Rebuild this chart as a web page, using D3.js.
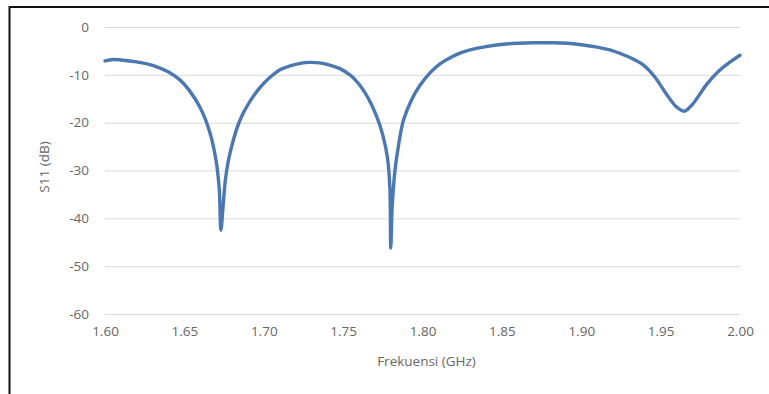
<!DOCTYPE html>
<html>
<head>
<meta charset="utf-8">
<script src="https://cdn.jsdelivr.net/npm/d3@7"></script>
<style>
  body { margin: 0; background: #fff; }
  text { font-family: "Open Sans", sans-serif; fill: #666; }
</style>
</head>
<body>
<div class="chart"></div>
<script>
// Chart data
var freq = [1.600, 1.605, 1.610, 1.620, 1.630, 1.640, 1.647, 1.653, 1.660, 1.666,
  1.670, 1.672, 1.673, 1.6745, 1.676, 1.679, 1.685, 1.692, 1.698, 1.704,
  1.710, 1.717, 1.723, 1.729, 1.735, 1.741, 1.748, 1.755, 1.761, 1.766,
  1.771, 1.775, 1.778, 1.7795, 1.780, 1.781, 1.7827, 1.785, 1.788, 1.793,
  1.798, 1.805, 1.811, 1.818, 1.824, 1.830, 1.840, 1.851, 1.860, 1.870,
  1.882, 1.891, 1.900, 1.910, 1.918, 1.925, 1.932, 1.939, 1.946, 1.954,
  1.960, 1.965, 1.970, 1.979, 1.986, 1.993, 2.000];
var s11 = [-7.1, -6.8, -6.9, -7.3, -8.0, -9.4, -11.0, -13.2, -16.9, -22.0,
  -28.0, -34.0, -42.5, -37.0, -31.5, -26.0, -19.5, -15.2, -12.5, -10.5,
  -9.0, -8.1, -7.6, -7.4, -7.5, -7.9, -8.7, -10.2, -12.4, -15.0,
  -18.6, -22.6, -27.5, -34.0, -46.2, -37.0, -29.9, -24.5, -19.5, -15.3,
  -12.4, -9.5, -7.7, -6.3, -5.4, -4.8, -4.1, -3.6, -3.4, -3.3,
  -3.3, -3.4, -3.7, -4.2, -4.8, -5.6, -6.6, -7.9, -10.3, -14.2,
  -16.7, -17.6, -16.2, -12.0, -9.4, -7.5, -5.9];
var xTicks = [1.60, 1.65, 1.70, 1.75, 1.80, 1.85, 1.90, 1.95, 2.00];
var yTicks = [0, -10, -20, -30, -40, -50, -60];

var svgWidth = 769;
var svgHeight = 394;
var margin = {top: 27, right: 29, bottom: 80, left: 105};
var width = svgWidth - margin.left - margin.right;
var height = svgHeight - margin.top - margin.bottom;

var root = d3.select('.chart')
  .append('svg')
  .attr('width', svgWidth)
  .attr('height', svgHeight);

// outer frame (only top and left edges visible in the picture)
root.append('rect')
  .attr('x', 9.5)
  .attr('y', 7)
  .attr('width', 800)
  .attr('height', 400)
  .attr('fill', 'none')
  .attr('stroke', '#111')
  .attr('stroke-width', 2);

var svg = root.append('g')
  .attr('transform', 'translate(' + margin.left + ',' + margin.top + ')');

var x = d3.scaleLinear().domain([1.6, 2.0]).range([0, width]);
var y = d3.scaleLinear().domain([-60, 0]).range([height, 0]);

// horizontal gridlines + y labels (plain hyphen for the minus sign)
var leftAxis = d3.axisLeft(y)
  .tickValues(yTicks)
  .tickSize(-width)
  .tickPadding(16)
  .tickFormat(function(d) { return String(d); });

var gy = svg.append('g').call(leftAxis);
gy.select('.domain').remove();
gy.selectAll('line').attr('stroke', '#d9d9d9');
gy.selectAll('text').style('font-size', '13.5px').attr('fill', '#666');

// x labels
var bottomAxis = d3.axisBottom(x)
  .tickValues(xTicks)
  .tickSize(0)
  .tickPadding(12)
  .tickFormat(d3.format('.2f'));

var gx = svg.append('g')
  .attr('transform', 'translate(0,' + height + ')')
  .call(bottomAxis);
gx.select('.domain').remove();
gx.selectAll('text').style('font-size', '13.5px').attr('fill', '#666');

// the S11 curve
var line = d3.line()
  .x(function(d, i) { return x(freq[i]); })
  .y(function(d) { return y(d); })
  .curve(d3.curveCatmullRom.alpha(0.5));

svg.append('path')
  .datum(s11)
  .attr('d', line)
  .attr('fill', 'none')
  .attr('stroke', '#4c78b2')
  .attr('stroke-width', 3.4)
  .attr('stroke-linejoin', 'round')
  .attr('stroke-linecap', 'round');

// axis titles
svg.append('text')
  .attr('x', width / 2 + 4)
  .attr('y', height + 52)
  .attr('text-anchor', 'middle')
  .style('font-size', '13.5px')
  .text('Frekuensi (GHz)');

svg.append('text')
  .attr('transform', 'translate(' + (44 - margin.left) + ',' + (167 - margin.top) + ') rotate(-90)')
  .attr('text-anchor', 'middle')
  .attr('dy', '0.35em')
  .style('font-size', '13.5px')
  .text('S11 (dB)');
</script>
</body>
</html>
